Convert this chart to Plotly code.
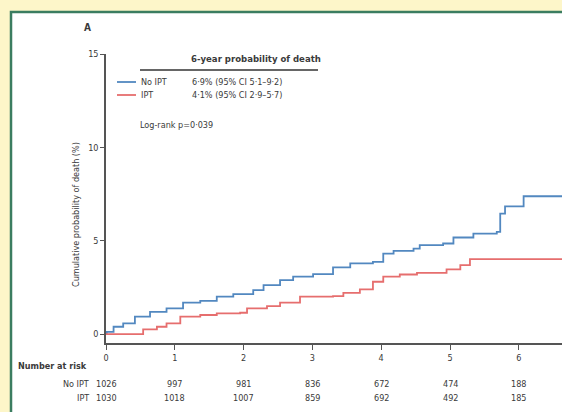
import plotly.graph_objects as go

# ---- data ----
no_ipt_t = [0, 0.01, 0.11, 0.25, 0.42, 0.64, 0.88, 1.12, 1.37, 1.61, 1.85, 2.14, 2.29, 2.53, 2.72,
            3.01, 3.30, 3.55, 3.88, 4.03, 4.18, 4.47, 4.56, 4.90, 5.05, 5.34, 5.68, 5.73, 5.80, 6.07, 6.63]
no_ipt_v = [0, 0.12, 0.39, 0.57, 0.93, 1.19, 1.37, 1.68, 1.78, 2.00, 2.14, 2.35, 2.62, 2.89, 3.07,
            3.21, 3.57, 3.78, 3.87, 4.31, 4.45, 4.58, 4.76, 4.85, 5.17, 5.38, 5.47, 6.45, 6.84, 7.38, 7.38]
ipt_t = [0, 0.49, 0.54, 0.74, 0.88, 1.08, 1.37, 1.61, 1.95, 2.05, 2.34, 2.53, 2.82, 3.30, 3.45,
         3.69, 3.88, 4.03, 4.27, 4.52, 4.95, 5.15, 5.29, 6.63]
ipt_v = [0, 0, 0.25, 0.39, 0.57, 0.93, 1.02, 1.11, 1.14, 1.37, 1.50, 1.68, 2.00, 2.03, 2.21,
         2.39, 2.80, 3.07, 3.19, 3.28, 3.46, 3.69, 4.01, 4.01]

years = [0, 1, 2, 3, 4, 5, 6]
y_ticks = [0, 5, 10, 15]
risk_no_ipt = [1026, 997, 981, 836, 672, 474, 188]
risk_ipt = [1030, 1018, 1007, 859, 692, 492, 185]
groups = ["No IPT", "IPT"]
ci_text = ["6·9% (95% CI 5·1–9·2)", "4·1% (95% CI 2·9–5·7)"]

BLUE = "#5288c0"
RED = "#e66e6e"
TXT = "#3a3a3a"
FONT = "Liberation Sans Narrow, DejaVu Sans Condensed, Arial Narrow, sans-serif"

fig = go.Figure()
fig.add_trace(go.Scatter(x=no_ipt_t, y=no_ipt_v, mode="lines", line=dict(color=BLUE, width=1.8, shape="hv"),
                         showlegend=False, hoverinfo="skip"))
fig.add_trace(go.Scatter(x=ipt_t, y=ipt_v, mode="lines", line=dict(color=RED, width=1.8, shape="hv"),
                         showlegend=False, hoverinfo="skip"))

# pixel -> paper helpers
L, R, T, B = 106, 562, 54, 343
def px(x):
    return (x - L) / (R - L)
def py(y):
    return (B - y) / (B - T)

shapes = [
    # white panel with green border
    dict(type="rect", xref="paper", yref="paper", x0=px(11), x1=px(580), y0=py(430), y1=py(12),
         fillcolor="white", line=dict(color="#3b7d60", width=2.5), layer="below"),
    # legend underline
    dict(type="line", xref="paper", yref="paper", x0=px(140), x1=px(318), y0=py(70), y1=py(70),
         line=dict(color="#333333", width=1.3)),
    dict(type="line", xref="paper", yref="paper", x0=px(117), x1=px(136), y0=py(82), y1=py(82),
         line=dict(color=BLUE, width=1.8)),
    dict(type="line", xref="paper", yref="paper", x0=px(117), x1=px(136), y0=py(95), y1=py(95),
         line=dict(color=RED, width=1.8)),
]

ann = []
def add_text(text, x, y, xanchor="left", size=9, bold=False, xref="paper", angle=0):
    ann.append(dict(text=("<b>%s</b>" % text) if bold else text, x=x, y=y, xref=xref, yref="paper",
                    xanchor=xanchor, yanchor="middle", showarrow=False, textangle=angle,
                    font=dict(family=FONT, size=size, color=TXT)))

add_text("A", px(82), py(28), size=10, bold=True)
add_text("6-year probability of death", px(189), py(58), size=9.5, bold=True)
for i, (g, c) in enumerate(zip(groups, ci_text)):
    yy = py(82 + 13 * i)
    add_text(g, px(139), yy)
    add_text(c, px(190), yy)
add_text("Log-rank p=0·039", px(138), py(125))
add_text("Cumulative probability of death (%)", px(76), py(215), xanchor="center", angle=-90)
add_text("Number at risk", px(16), py(366), bold=True)
for i, (g, row) in enumerate(zip(groups, [risk_no_ipt, risk_ipt])):
    yy = py(384 + 14 * i)
    add_text(g, px(91), yy, xanchor="right")
    for t, n in zip(years, row):
        add_text(str(n), t, yy, xanchor="center", xref="x")

fig.update_layout(
    width=562, height=412,
    margin=dict(l=L, r=0, t=T, b=412 - B, pad=0),
    paper_bgcolor="#fdf6c9", plot_bgcolor="rgba(0,0,0,0)",
    shapes=shapes, annotations=ann,
    font=dict(family=FONT, size=9, color=TXT),
    xaxis=dict(range=[0, (R - L) / 68.8], tickvals=years, ticks="outside", ticklen=5, tickwidth=1.2,
               tickcolor="#555", showline=True, linecolor="#555", linewidth=1.5, showgrid=False,
               zeroline=False, tickfont=dict(family=FONT, size=9, color=TXT)),
    yaxis=dict(range=[-0.48, 15], tickvals=y_ticks, ticks="outside", ticklen=4, tickwidth=1.2,
               tickcolor="#555", showline=True, linecolor="#555", linewidth=1.5, showgrid=False,
               zeroline=False, tickfont=dict(family=FONT, size=9, color=TXT)),
)

fig.write_html("out.html", config={"displayModeBar": False})

# remove the default page margin so the figure sits at the window origin
with open("out.html", encoding="utf-8") as f:
    html = f.read()
html = html.replace("<head>", "<head><style>html,body{margin:0;padding:0;overflow:hidden;}</style>", 1)
with open("out.html", "w", encoding="utf-8") as f:
    f.write(html)
